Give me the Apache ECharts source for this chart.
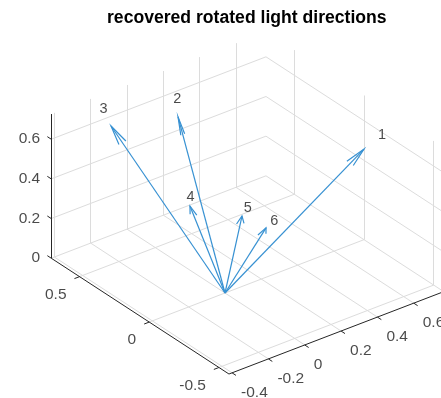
<!DOCTYPE html>
<html><head><meta charset="utf-8">
<script src="https://cdn.jsdelivr.net/npm/echarts@6/dist/echarts.min.js"></script>
<style>html,body{margin:0;padding:0;background:#fff}#c{width:441px;height:398px}</style>
</head><body><div id="c"></div>
<script>
// ---- data ----
const titleText = 'recovered rotated light directions';
const arrowLabels = ['1', '2', '3', '4', '5', '6'];
const dirX = [0.765, 0.007, -0.088, -0.417, -0.271, -0.213];
const dirY = [0.000, 0.346, 0.703, -0.292, -0.475, -0.572];
const dirZ = [0.457, 0.727, 0.551, 0.719, 0.701, 0.665];
const xTicks = [-0.4, -0.2, 0, 0.2, 0.4, 0.6];
const yTicks = [-0.5, 0, 0.5];
const zTicks = [0, 0.2, 0.4, 0.6];
const xTickLabels = ['-0.4', '-0.2', '0', '0.2', '0.4', '0.6'];
const yTickLabels = ['-0.5', '0', '0.5'];
const zTickLabels = ['0', '0.2', '0.4', '0.6'];
const xLim = [-0.417, 0.765];
const yLim = [-0.572, 0.703];
const zLim = [0, 0.727];

// ---- view (MATLAB default 3-D view, equal aspect) ----
const AZ = -37.5 * Math.PI / 180, EL = 30 * Math.PI / 180;
const W = 441, H = 398, OX = 225, OY = 293, S = 229;
function P(x, y, z) {
  return [Math.cos(AZ) * x + Math.sin(AZ) * y,
          -Math.sin(AZ) * Math.sin(EL) * x + Math.cos(AZ) * Math.sin(EL) * y + Math.cos(EL) * z];
}
function seg(a, b) { return { coords: [P(a[0], a[1], a[2]), P(b[0], b[1], b[2])] }; }

// grid lines on floor and two back walls
const gridSegs = [];
xTicks.forEach(x => {
  gridSegs.push(seg([x, yLim[0], 0], [x, yLim[1], 0]));
  gridSegs.push(seg([x, yLim[1], 0], [x, yLim[1], zLim[1]]));
});
yTicks.forEach(y => {
  gridSegs.push(seg([xLim[0], y, 0], [xLim[1], y, 0]));
  gridSegs.push(seg([xLim[1], y, 0], [xLim[1], y, zLim[1]]));
});
zTicks.forEach(z => {
  gridSegs.push(seg([xLim[0], yLim[1], z], [xLim[1], yLim[1], z]));
  gridSegs.push(seg([xLim[1], yLim[1], z], [xLim[1], yLim[0], z]));
});

// axis lines and ticks
const TL = 0.028;
const axisSegs = [
  seg([xLim[0], yLim[1], 0], [xLim[0], yLim[1], zLim[1]]),
  seg([xLim[0], yLim[0], 0], [xLim[0], yLim[1], 0]),
  seg([xLim[0], yLim[0], 0], [xLim[1], yLim[0], 0])
];
zTicks.forEach(z => axisSegs.push(seg([xLim[0], yLim[1], z], [xLim[0], yLim[1] + TL, z])));
yTicks.forEach(y => axisSegs.push(seg([xLim[0], y, 0], [xLim[0] - TL, y, 0])));
xTicks.forEach(x => axisSegs.push(seg([x, yLim[0], 0], [x, yLim[0] - TL, 0])));

// arrows (quiver3-style heads)
const alpha = 0.1, beta = 0.3;
const shafts = [], heads = [];
for (let i = 0; i < dirX.length; i++) {
  const u = dirX[i], v = dirY[i], w = dirZ[i];
  shafts.push(seg([0, 0, 0], [u, v, w]));
  const b1 = [u - alpha * (u + beta * v), v - alpha * (v - beta * u), w - alpha * w];
  const b2 = [u - alpha * (u - beta * v), v - alpha * (v + beta * u), w - alpha * w];
  heads.push({ coords: [P(b1[0], b1[1], b1[2]), P(u, v, w), P(b2[0], b2[1], b2[2])] });
}

const tickFont = { fontFamily: 'Liberation Sans, Arial, sans-serif', fontSize: 15.5, color: '#1c1c1c' };
function labelSeries(items, lab) {
  return {
    type: 'scatter', symbolSize: 0, silent: true, z: 5,
    itemStyle: { color: 'rgba(0,0,0,0)' },
    label: Object.assign({ show: true, formatter: p => p.name }, tickFont, lab),
    data: items
  };
}
const xLabelItems = xTicks.map((x, i) => ({ name: xTickLabels[i], value: P(x, yLim[0], 0) }));
const yLabelItems = yTicks.map((y, i) => ({ name: yTickLabels[i], value: P(xLim[0], y, 0) }));
const zLabelItems = zTicks.map((z, i) => ({ name: zTickLabels[i], value: P(xLim[0], yLim[1], z) }));
const arrowLabelItems = arrowLabels.map((t, i) => ({ name: t, value: P(1.1 * dirX[i], 1.1 * dirY[i], 1.1 * dirZ[i]) }));

const chart = echarts.init(document.getElementById('c'), null, { renderer: 'canvas' });
chart.setOption({
  animation: false,
  backgroundColor: '#ffffff',
  grid: { left: 0, right: 0, top: 0, bottom: 0 },
  xAxis: { type: 'value', min: -OX / S, max: (W - OX) / S, show: false },
  yAxis: { type: 'value', min: -(H - OY) / S, max: OY / S, show: false },
  graphic: [{
    type: 'text', left: 107, top: 9,
    style: { text: titleText, fontFamily: 'Liberation Sans, Arial, sans-serif', fontWeight: 'bold', fontSize: 17.6, fill: '#000' }
  }],
  series: [
    { type: 'lines', coordinateSystem: 'cartesian2d', silent: true, z: 1,
      lineStyle: { color: '#dcdcdc', width: 1, opacity: 1 }, data: gridSegs },
    { type: 'lines', coordinateSystem: 'cartesian2d', silent: true, z: 2,
      lineStyle: { color: '#262626', width: 1, opacity: 1 }, data: axisSegs },
    { type: 'lines', coordinateSystem: 'cartesian2d', silent: true, z: 3,
      lineStyle: { color: '#3791d2', width: 1.2, opacity: 1 }, data: shafts },
    { type: 'lines', coordinateSystem: 'cartesian2d', polyline: true, silent: true, z: 3,
      lineStyle: { color: '#3791d2', width: 1.2, opacity: 1 }, data: heads },
    labelSeries(xLabelItems, { position: [9, 20], align: 'left', verticalAlign: 'middle' }),
    labelSeries(yLabelItems, { position: [-13, 18], align: 'right', verticalAlign: 'middle' }),
    labelSeries(zLabelItems, { position: [-11, 0], align: 'right', verticalAlign: 'middle' }),
    labelSeries(arrowLabelItems, { position: [0, 0], align: 'left', verticalAlign: 'middle', fontSize: 14.5 })
  ]
});
</script></body></html>
